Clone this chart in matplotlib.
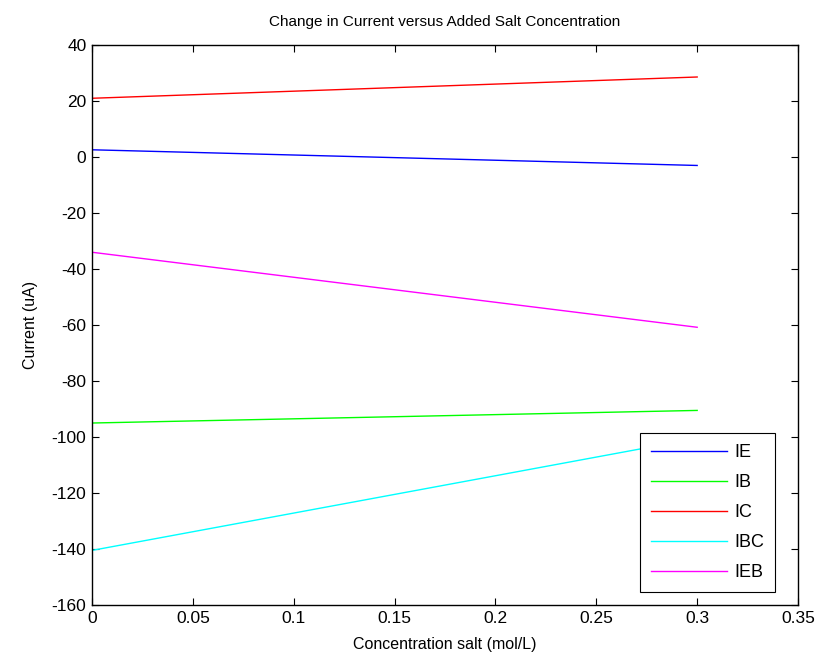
import numpy as np
import matplotlib.pyplot as plt

plt.rcParams['font.family'] = ['Liberation Sans', 'DejaVu Sans']
plt.rcParams['axes.unicode_minus'] = False

# salt concentration (mol/L), endpoints
conc = [0.0, 0.3]
IE = [2.6, -3.0]
IB = [-95.0, -90.5]
IC = [21.0, 28.6]
IBC = [-140.5, -100.5]
IEB = [-34.0, -60.8]

names = ["IE", "IB", "IC", "IBC", "IEB"]
series = [IE, IB, IC, IBC, IEB]
colors = ["#0000ff", "#00ff00", "#ff0000", "#00ffff", "#ff00ff"]

fig = plt.figure(figsize=(8.2, 6.63), dpi=100)
ax = fig.add_axes([0.1122, 0.0875, 0.861, 0.8445])

for name, vals, c in zip(names, series, colors):
    ax.plot(conc, vals, color=c, lw=1, label=name)

ax.set_xlim(0, 0.35)
ax.set_ylim(-160, 40)
ax.set_xticks(np.arange(0, 0.351, 0.05))
ax.set_xticklabels(["0", "0.05", "0.1", "0.15", "0.2", "0.25", "0.3", "0.35"])
ax.set_yticks(np.arange(-160, 41, 20))
ax.tick_params(direction='in', top=True, right=True, labelsize=12.5, length=5, pad=4)
for s in ax.spines.values():
    s.set_linewidth(1)

ax.set_title("Change in Current versus Added Salt Concentration", fontsize=11, pad=14)
ax.set_xlabel("Concentration salt (mol/L)", fontsize=11.5, labelpad=8)
ax.set_ylabel("Current (uA)", fontsize=11.5, labelpad=10)

leg = ax.legend(loc='lower right', bbox_to_anchor=(0.967, 0.023), borderaxespad=0,
                fancybox=False, edgecolor='black', fontsize=13,
                handlelength=4.2, handletextpad=0.4, labelspacing=0.72,
                borderpad=0.6, framealpha=1)
leg.get_frame().set_linewidth(0.8)

fig.savefig("out.png", dpi=100)
